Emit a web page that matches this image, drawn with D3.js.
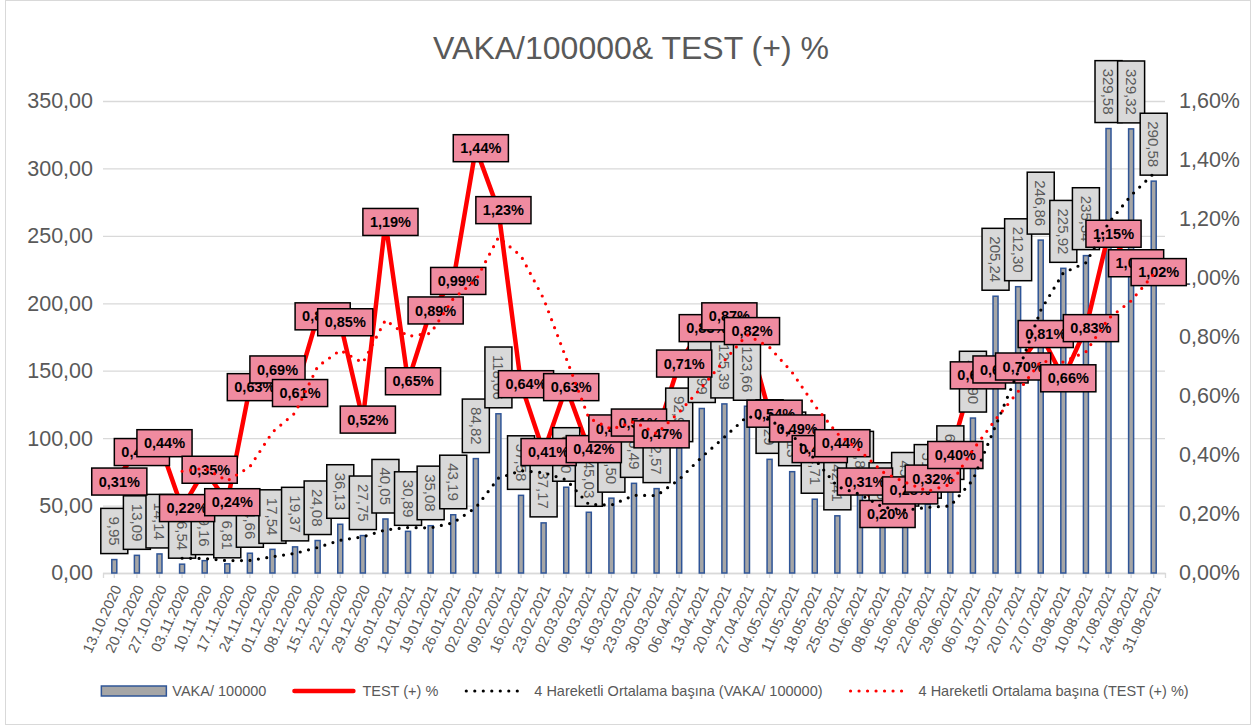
<!DOCTYPE html>
<html>
<head>
<meta charset="utf-8">
<script src="https://cdn.jsdelivr.net/npm/d3@7"></script>
<style>
  body { margin: 0; background: #fff; }
  svg { font-family: "Liberation Sans", Arial, sans-serif; }
</style>
</head>
<body>
<svg id="chart" width="1255" height="726"></svg>
<script>
// =======================================================
// Data
// =======================================================
const dates = [
  "13.10.2020", "20.10.2020", "27.10.2020", "03.11.2020", "10.11.2020", "17.11.2020",
  "24.11.2020", "01.12.2020", "08.12.2020", "15.12.2020", "22.12.2020", "29.12.2020",
  "05.01.2021", "12.01.2021", "19.01.2021", "26.01.2021", "02.02.2021", "09.02.2021",
  "16.02.2021", "23.02.2021", "02.03.2021", "09.03.2021", "16.03.2021", "23.03.2021",
  "30.03.2021", "06.04.2021", "13.04.2021", "20.04.2021", "27.04.2021", "04.05.2021",
  "11.05.2021", "18.05.2021", "25.05.2021", "01.06.2021", "08.06.2021", "15.06.2021",
  "22.06.2021", "29.06.2021", "06.07.2021", "13.07.2021", "20.07.2021", "27.07.2021",
  "03.08.2021", "10.08.2021", "17.08.2021", "24.08.2021", "31.08.2021"
];

// VAKA / 100000 (bars, left axis)
const vaka = [
  9.95, 13.09, 14.14, 6.54, 9.16, 6.81, 14.66, 17.54, 19.37, 24.08, 36.13, 27.75,
  40.05, 30.89, 35.08, 43.19, 84.82, 118.06, 57.58, 37.17, 63.60, 45.03, 55.50, 66.49,
  62.57, 92.95, 121.99, 125.39, 123.66, 84.29, 75.13, 54.71, 42.41, 60.86, 37.58, 45.20,
  51.05, 64.95, 114.90, 205.24, 212.30, 246.86, 225.92, 235.34, 329.58, 329.32, 290.58
];

// TEST (+) % (line, right axis)
const testPct = [
  0.31, 0.41, 0.44, 0.22, 0.35, 0.24, 0.63, 0.69, 0.61, 0.87, 0.85, 0.52,
  1.19, 0.65, 0.89, 0.99, 1.44, 1.23, 0.64, 0.41, 0.63, 0.42, 0.49, 0.51,
  0.47, 0.71, 0.83, 0.87, 0.82, 0.54, 0.49, 0.42, 0.44, 0.31, 0.20, 0.28,
  0.32, 0.40, 0.67, 0.69, 0.70, 0.81, 0.66, 0.83, 1.15, 1.05, 1.02
];

const leftTicks = [0, 50, 100, 150, 200, 250, 300, 350];
const rightTicks = [0, 0.2, 0.4, 0.6, 0.8, 1.0, 1.2, 1.4, 1.6];

const title = "VAKA/100000& TEST (+) %";
const legendNames = [
  "VAKA/ 100000",
  "TEST (+) %",
  "4 Hareketli Ortalama başına (VAKA/ 100000)",
  "4 Hareketli Ortalama başına (TEST (+) %)"
];

// =======================================================
// Helpers
// =======================================================
const TXT = "#595959";
const GRID = "#d9d9d9";
const comma = v => v.toFixed(2).replace(".", ",");

// 4-period trailing moving average (like an Excel trendline)
function movingAvg(arr, n) {
  const out = [];
  for (let i = n - 1; i < arr.length; i++) {
    out.push({ i, v: d3.mean(arr.slice(i - n + 1, i + 1)) });
  }
  return out;
}

// =======================================================
// Scales
// =======================================================
const svg = d3.select("#chart");
const plot = { left: 103, right: 1165, top: 101, bottom: 573 };

const x = d3.scaleBand().domain(dates).range([plot.left, plot.right]);
const cx = i => x(dates[i]) + x.bandwidth() / 2;
const yL = d3.scaleLinear().domain([0, 350]).range([plot.bottom, plot.top]);
const yR = d3.scaleLinear().domain([0, 1.6]).range([plot.bottom, plot.top]);

// frame
svg.append("rect")
  .attr("x", 5.5).attr("y", 0.5)
  .attr("width", 1245).attr("height", 724)
  .attr("fill", "#fff")
  .attr("stroke", GRID);

// title
svg.append("text")
  .attr("x", 631).attr("y", 59)
  .attr("text-anchor", "middle")
  .attr("fill", TXT)
  .style("font-size", "32px")
  .text(title);

// =======================================================
// Axes + grid
// =======================================================
const gLeft = svg.append("g")
  .attr("transform", `translate(${plot.left},0)`)
  .call(d3.axisLeft(yL)
    .tickValues(leftTicks)
    .tickSize(-(plot.right - plot.left))
    .tickPadding(10)
    .tickFormat(comma));
gLeft.select(".domain").remove();
gLeft.selectAll("line").attr("stroke", GRID).attr("stroke-width", 1.3);
gLeft.selectAll("text").attr("fill", TXT).style("font-size", "21.5px");

const gRight = svg.append("g")
  .attr("transform", `translate(${plot.right},0)`)
  .call(d3.axisRight(yR)
    .tickValues(rightTicks)
    .tickSize(0)
    .tickPadding(14)
    .tickFormat(v => comma(v) + "%"));
gRight.select(".domain").remove();
gRight.selectAll("text").attr("fill", TXT).style("font-size", "21.5px");

const gX = svg.append("g")
  .attr("transform", `translate(0,${plot.bottom})`)
  .call(d3.axisBottom(x).tickSize(5));
gX.select(".domain").attr("stroke", GRID).attr("stroke-width", 1.3);
gX.selectAll("line").attr("stroke", GRID).attr("stroke-width", 1.3);
gX.selectAll("text")
  .attr("x", 0).attr("y", 0).attr("dy", "0.35em")
  .attr("transform", "translate(3,13) rotate(-65)")
  .style("text-anchor", "end")
  .style("font-size", "14.5px")
  .attr("fill", TXT);

// =======================================================
// Bars
// =======================================================
const barW = 5;
svg.append("g")
  .selectAll("rect")
  .data(vaka)
  .join("rect")
  .attr("x", (d, i) => cx(i) - barW / 2)
  .attr("y", d => yL(d))
  .attr("width", barW)
  .attr("height", d => yL(0) - yL(d))
  .attr("fill", "#a6a6a6")
  .attr("stroke", "#2f5597")
  .attr("stroke-width", 1.5);

// =======================================================
// TEST (+) % line
// =======================================================
const lineR = d3.line().x((d, i) => cx(i)).y(d => yR(d));
svg.append("path")
  .datum(testPct)
  .attr("d", lineR)
  .attr("fill", "none")
  .attr("stroke", "#ff0000")
  .attr("stroke-width", 4.5);

// =======================================================
// Labels
// =======================================================
// grey rotated labels on top of bars
const gBarLab = svg.append("g").style("font-size", "15px");
vaka.forEach((v, i) => {
  const g = gBarLab.append("g");
  const rect = g.append("rect")
    .attr("fill", "#d9d9d9")
    .attr("stroke", "#000")
    .attr("stroke-width", 1.5);
  const t = g.append("text")
    .attr("transform", "rotate(90)")
    .attr("text-anchor", "middle")
    .attr("dy", "0.35em")
    .attr("fill", TXT)
    .text(comma(v));
  const len = t.node().getComputedTextLength();
  const bw = 27, bh = len + 16;
  rect.attr("x", -bw / 2).attr("y", -bh / 2).attr("width", bw).attr("height", bh);
  g.attr("transform", `translate(${cx(i)},${yL(v) - 6 - bh / 2})`);
});

// pink labels on the percentage points
const gPctLab = svg.append("g").style("font-size", "14.5px").style("font-weight", "bold");
testPct.forEach((v, i) => {
  const g = gPctLab.append("g")
    .attr("transform", `translate(${cx(i) + 5},${yR(v)})`);
  const rect = g.append("rect")
    .attr("fill", "#f08ba0")
    .attr("stroke", "#000")
    .attr("stroke-width", 1.5);
  const t = g.append("text")
    .attr("text-anchor", "middle")
    .attr("dy", "0.35em")
    .attr("fill", "#000")
    .text(comma(v) + "%");
  const len = t.node().getComputedTextLength();
  const bw = len + 14, bh = 27;
  rect.attr("x", -bw / 2).attr("y", -bh / 2).attr("width", bw).attr("height", bh);
});

// =======================================================
// Moving average trendlines (drawn on top)
// =======================================================
const maLine = scale => d3.line().x(d => cx(d.i)).y(d => scale(d.v));

svg.append("path")
  .datum(movingAvg(vaka, 4))
  .attr("d", maLine(yL))
  .attr("fill", "none")
  .attr("stroke", "#000")
  .attr("stroke-width", 3.2)
  .attr("stroke-linecap", "round")
  .attr("stroke-dasharray", "0,8.5");

svg.append("path")
  .datum(movingAvg(testPct, 4))
  .attr("d", maLine(yR))
  .attr("fill", "none")
  .attr("stroke", "#ff0000")
  .attr("stroke-width", 3.2)
  .attr("stroke-linecap", "round")
  .attr("stroke-dasharray", "0,8.5");

// =======================================================
// Legend
// =======================================================
const legY = 691;
const symW = 65;
const gLeg = svg.append("g").style("font-size", "14.5px");
let lx = 0;
legendNames.forEach((name, k) => {
  const g = gLeg.append("g").attr("transform", `translate(${lx},0)`);
  if (k === 0) {
    g.append("rect")
      .attr("x", 0).attr("y", legY - 5)
      .attr("width", symW).attr("height", 10)
      .attr("fill", "#a6a6a6")
      .attr("stroke", "#2f5597")
      .attr("stroke-width", 1.5);
  } else {
    g.append("line")
      .attr("x1", 3).attr("x2", symW - 3)
      .attr("y1", legY).attr("y2", legY)
      .attr("stroke", k === 2 ? "#000" : "#ff0000")
      .attr("stroke-width", k === 1 ? 4.5 : 3.2)
      .attr("stroke-linecap", "round")
      .attr("stroke-dasharray", k === 1 ? null : "0,8.5");
  }
  const t = g.append("text")
    .attr("x", symW + 6).attr("y", legY)
    .attr("dy", "0.35em")
    .attr("fill", TXT)
    .text(name);
  lx += symW + 6 + t.node().getComputedTextLength() + 25;
});
const legW = lx - 25;
gLeg.attr("transform", `translate(${645 - legW / 2},0)`);
</script>
</body>
</html>
